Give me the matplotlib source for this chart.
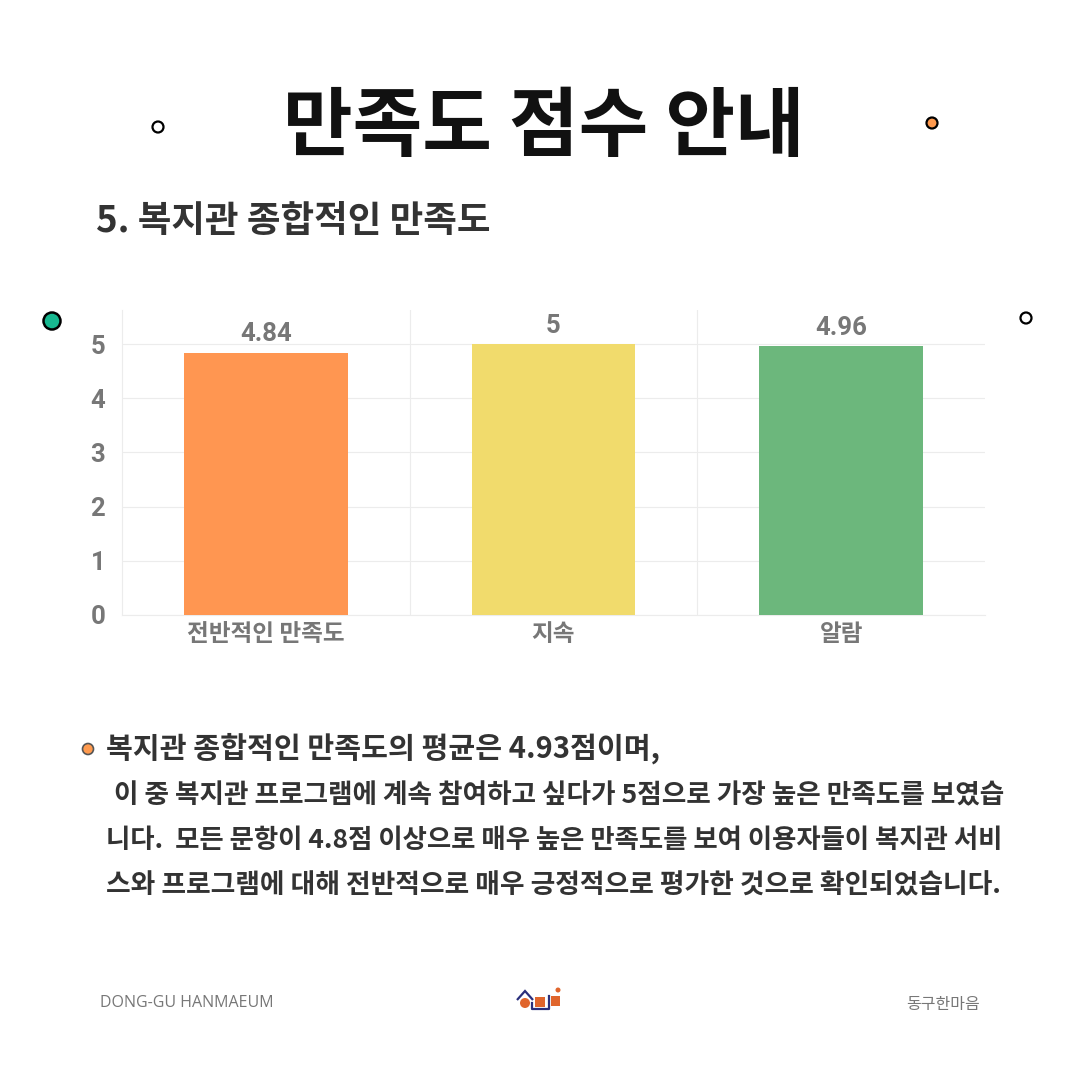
import matplotlib.pyplot as plt
from matplotlib.patches import Circle, Rectangle, Polygon

plt.rcParams['font.family'] = ['Noto Sans CJK KR', 'DejaVu Sans']

categories = ['전반적인 만족도', '지속', '알람']
scores = [4.84, 5, 4.96]
score_labels = ['4.84', '5', '4.96']
bar_colors = ['#FF9651', '#F1DB6C', '#6CB77C']
yticks = [0, 1, 2, 3, 4, 5]

title = '만족도 점수 안내'
subtitle = '5. 복지관 종합적인 만족도'
body_lines = [
    '복지관 종합적인 만족도의 평균은 4.93점이며,',
    ' 이 중 복지관 프로그램에 계속 참여하고 싶다가 5점으로 가장 높은 만족도를 보였습',
    '니다.  모든 문항이 4.8점 이상으로 매우 높은 만족도를 보여 이용자들이 복지관 서비',
    '스와 프로그램에 대해 전반적으로 매우 긍정적으로 평가한 것으로 확인되었습니다.',
]


def main():
    fig = plt.figure(figsize=(10.8, 10.8), dpi=100)
    W = H = 1080

    def px(x, y):
        return x / W, 1 - y / H

    # title / subtitle
    fig.text(*px(544, 127), title, ha='center', va='center', fontsize=54.5,
             fontweight='bold', color='#111111')
    fig.text(*px(96, 222), subtitle, ha='left', va='center', fontsize=26.3,
             fontweight='bold', color='#333333')

    # bar chart
    ax = fig.add_axes([122 / W, 1 - 615 / H, (985 - 122) / W, (615 - 310) / H])
    x = range(len(categories))
    ax.bar(x, scores, width=0.57, color=bar_colors, zorder=3)
    for i, (v, lab) in enumerate(zip(scores, score_labels)):
        ax.text(i, v + 0.12, lab, ha='center', va='bottom', fontsize=18.5,
                fontweight='bold', color='#777777', family=['Roboto', 'DejaVu Sans'])
    ax.set_xlim(-0.5, len(categories) - 0.5)
    ax.set_ylim(0, 5.63)
    ax.set_yticks(yticks)
    ax.set_xticks(list(x))
    ax.set_xticklabels(categories)
    for t in ax.get_yticklabels():
        t.set_family(['Roboto', 'DejaVu Sans'])
    ax.tick_params(axis='y', length=0, pad=12, labelsize=18.5, labelcolor='#777777')
    ax.tick_params(axis='x', length=0, pad=5, labelsize=17, labelcolor='#777777')
    for t in ax.get_yticklabels() + ax.get_xticklabels():
        t.set_fontweight('bold')
    ax.grid(axis='y', color='#ececec', linewidth=0.8, zorder=0)
    for b in [0.5, 1.5]:
        ax.axvline(b, color='#ececec', linewidth=0.8, zorder=0)
    for side in ['top', 'right']:
        ax.spines[side].set_visible(False)
    ax.spines['left'].set_color('#ececec')
    ax.spines['bottom'].set_color('#ececec')

    # decorative circles
    deco = fig.add_axes([0, 0, 1, 1], zorder=5)
    deco.set_xlim(0, W)
    deco.set_ylim(H, 0)
    deco.axis('off')
    deco.add_patch(Circle((158, 127), 5.5, facecolor='white', edgecolor='black', lw=1.6))
    deco.add_patch(Circle((932, 123), 5.5, facecolor='#FF9A4E', edgecolor='black', lw=1.6))
    deco.add_patch(Circle((52, 321), 8.5, facecolor='#17B890', edgecolor='black', lw=1.8))
    deco.add_patch(Circle((1026, 318), 5.5, facecolor='white', edgecolor='black', lw=1.6))
    deco.add_patch(Circle((88, 749), 5.5, facecolor='#FF9A4E', edgecolor='#555555', lw=1.2))

    # body text
    line_pos = [(106, 748), (108, 796), (106, 841), (106, 885)]
    line_sizes = [21.0, 19.2, 19.0, 19.3]
    for (lx, ly), fs, line in zip(line_pos, line_sizes, body_lines):
        deco.text(lx, ly, line, ha='left', va='center', fontsize=fs,
                  fontweight='bold', color='#333333')

    # footer
    deco.text(100, 1003, 'DONG-GU HANMAEUM', ha='left', va='center', fontsize=11.5,
              color='#777777', family=['Open Sans', 'DejaVu Sans'])
    deco.text(980, 1004, '동구한마음', ha='right', va='center', fontsize=11.5,
              color='#777777')

    # small logo
    orange = '#E0652C'
    navy = '#2A2F7C'
    deco.add_patch(Polygon([(517, 1000), (525, 991), (533, 1000)], closed=False,
                           fill=False, edgecolor=navy, lw=1.6))
    deco.add_patch(Circle((525, 1003), 5, facecolor=orange, edgecolor='none'))
    deco.plot([532, 532, 549, 549], [1003, 1009, 1009, 996], color=navy, lw=1.6)
    deco.add_patch(Rectangle((535, 997), 10, 10, facecolor=orange, edgecolor='none'))
    deco.add_patch(Rectangle((551, 996), 9, 10, facecolor=orange, edgecolor='none'))
    deco.add_patch(Circle((558, 990), 2.5, facecolor=orange, edgecolor='none'))

    fig.savefig('out.png', dpi=100, facecolor='white')


if __name__ == '__main__':
    main()
